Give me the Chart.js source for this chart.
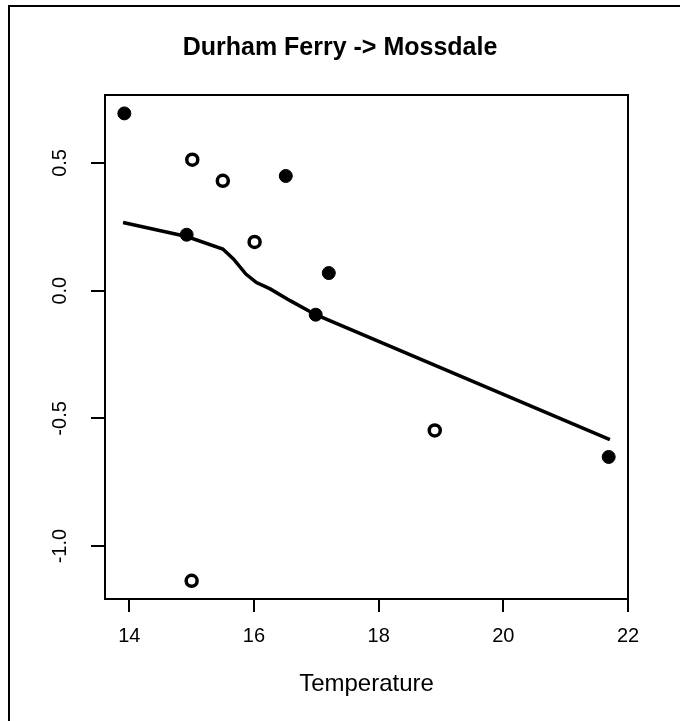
<!DOCTYPE html>
<html>
<head>
<meta charset="utf-8">
<script src="https://cdn.jsdelivr.net/npm/chart.js@4.4.1/dist/chart.umd.min.js"></script>
<style>
html,body{margin:0;padding:0;background:#fff;}
canvas{display:block;}
</style>
</head>
<body>
<canvas id="c" width="680" height="721"></canvas>
<script>
// ---- data ----
const chartTitle = "Durham Ferry -> Mossdale";
const xAxisTitle = "Temperature";
const xTickValues = [14, 16, 18, 20, 22];
const yTickValues = [-1.0, -0.5, 0.0, 0.5];
const yTickLabels = ["-1.0", "-0.5", "0.0", "0.5"];

// solid markers
const filledTemp  = [13.92, 14.92, 16.51, 16.99, 17.20, 21.69];
const filledValue = [0.694, 0.219, 0.449, -0.094, 0.069, -0.651];
// hollow markers
const openTemp  = [15.01, 15.50, 16.01, 18.90, 15.00];
const openValue = [0.513, 0.430, 0.191, -0.547, -1.136];
// smooth (loess-like) line
const smoothTemp  = [13.90, 14.92, 15.50, 15.67, 15.87, 16.04, 16.26, 16.58, 16.99, 21.71];
const smoothValue = [0.267, 0.212, 0.163, 0.124, 0.065, 0.032, 0.007, -0.039, -0.094, -0.583];

const FONT = '"Liberation Sans", Arial, Helvetica, sans-serif';

const toPts = (xs, ys) => xs.map((x, i) => ({x: x, y: ys[i]}));

const rStyle = {
  id: 'rStyle',
  beforeDraw(chart) {
    const ctx = chart.ctx;
    ctx.save();
    ctx.fillStyle = '#000';
    ctx.fillRect(8, 5, 2, 716);
    ctx.fillRect(8, 5, 672, 2);
    ctx.restore();
  },
  afterDraw(chart) {
    const ctx = chart.ctx;
    const a = chart.chartArea;
    const y = chart.scales.y;
    ctx.save();
    ctx.strokeStyle = '#000';
    ctx.lineWidth = 2;
    ctx.beginPath();
    ctx.moveTo(a.left, a.top);
    ctx.lineTo(a.right, a.top);
    ctx.lineTo(a.right, a.bottom);
    ctx.stroke();
    ctx.font = '20px ' + FONT;
    ctx.fillStyle = '#000';
    ctx.textAlign = 'center';
    ctx.textBaseline = 'middle';
    y.ticks.forEach(t => {
      const idx = yTickValues.indexOf(t.value);
      const py = y.getPixelForValue(t.value);
      ctx.save();
      ctx.translate(60, py);
      ctx.rotate(-Math.PI / 2);
      ctx.fillText(yTickLabels[idx], 0, 0);
      ctx.restore();
    });
    ctx.restore();
  }
};

new Chart(document.getElementById('c'), {
  type: 'scatter',
  data: {
    datasets: [
      {
        label: 'smooth',
        data: toPts(smoothTemp, smoothValue),
        showLine: true,
        borderColor: '#000',
        borderWidth: 3.5,
        pointRadius: 0,
        fill: false,
        tension: 0
      },
      {
        label: 'filled',
        data: toPts(filledTemp, filledValue),
        pointRadius: 6.5,
        pointBackgroundColor: '#000',
        pointBorderColor: '#000',
        pointBorderWidth: 1
      },
      {
        label: 'open',
        data: toPts(openTemp, openValue),
        pointRadius: 5.5,
        pointBackgroundColor: '#fff',
        pointBorderColor: '#000',
        pointBorderWidth: 3.5
      }
    ]
  },
  options: {
    responsive: false,
    animation: false,
    devicePixelRatio: 1,
    layout: {padding: 0},
    plugins: {
      legend: {display: false},
      tooltip: {enabled: false},
      title: {
        display: true,
        text: chartTitle,
        color: '#000',
        font: {family: FONT, size: 25, weight: 'bold'},
        padding: {top: 33, bottom: 32}
      }
    },
    scales: {
      x: {
        type: 'linear',
        position: 'bottom',
        min: 13.61,
        max: 22,
        afterBuildTicks: s => { s.ticks = xTickValues.map(v => ({value: v})); },
        afterFit: s => { s.height = 122; },
        grid: {display: true, drawOnChartArea: false, drawTicks: true, tickLength: 13, color: '#000', lineWidth: 2},
        border: {display: true, color: '#000', width: 2},
        ticks: {color: '#000', font: {family: FONT, size: 20}, padding: 12, maxRotation: 0, autoSkip: false},
        title: {display: true, text: xAxisTitle, color: '#000', font: {family: FONT, size: 24}, padding: {top: 0, bottom: 22}}
      },
      y: {
        type: 'linear',
        position: 'left',
        min: -1.207,
        max: 0.766,
        afterBuildTicks: s => { s.ticks = yTickValues.map(v => ({value: v})); },
        afterFit: s => { s.width = 105; },
        grid: {display: true, drawOnChartArea: false, drawTicks: true, tickLength: 14, color: '#000', lineWidth: 2},
        border: {display: true, color: '#000', width: 2},
        ticks: {display: false}
      },
      y2: {
        type: 'linear',
        position: 'right',
        display: true,
        afterFit: s => { s.width = 52; },
        grid: {display: false},
        border: {display: false},
        ticks: {display: false}
      }
    }
  },
  plugins: [rStyle]
});
</script>
</body>
</html>
